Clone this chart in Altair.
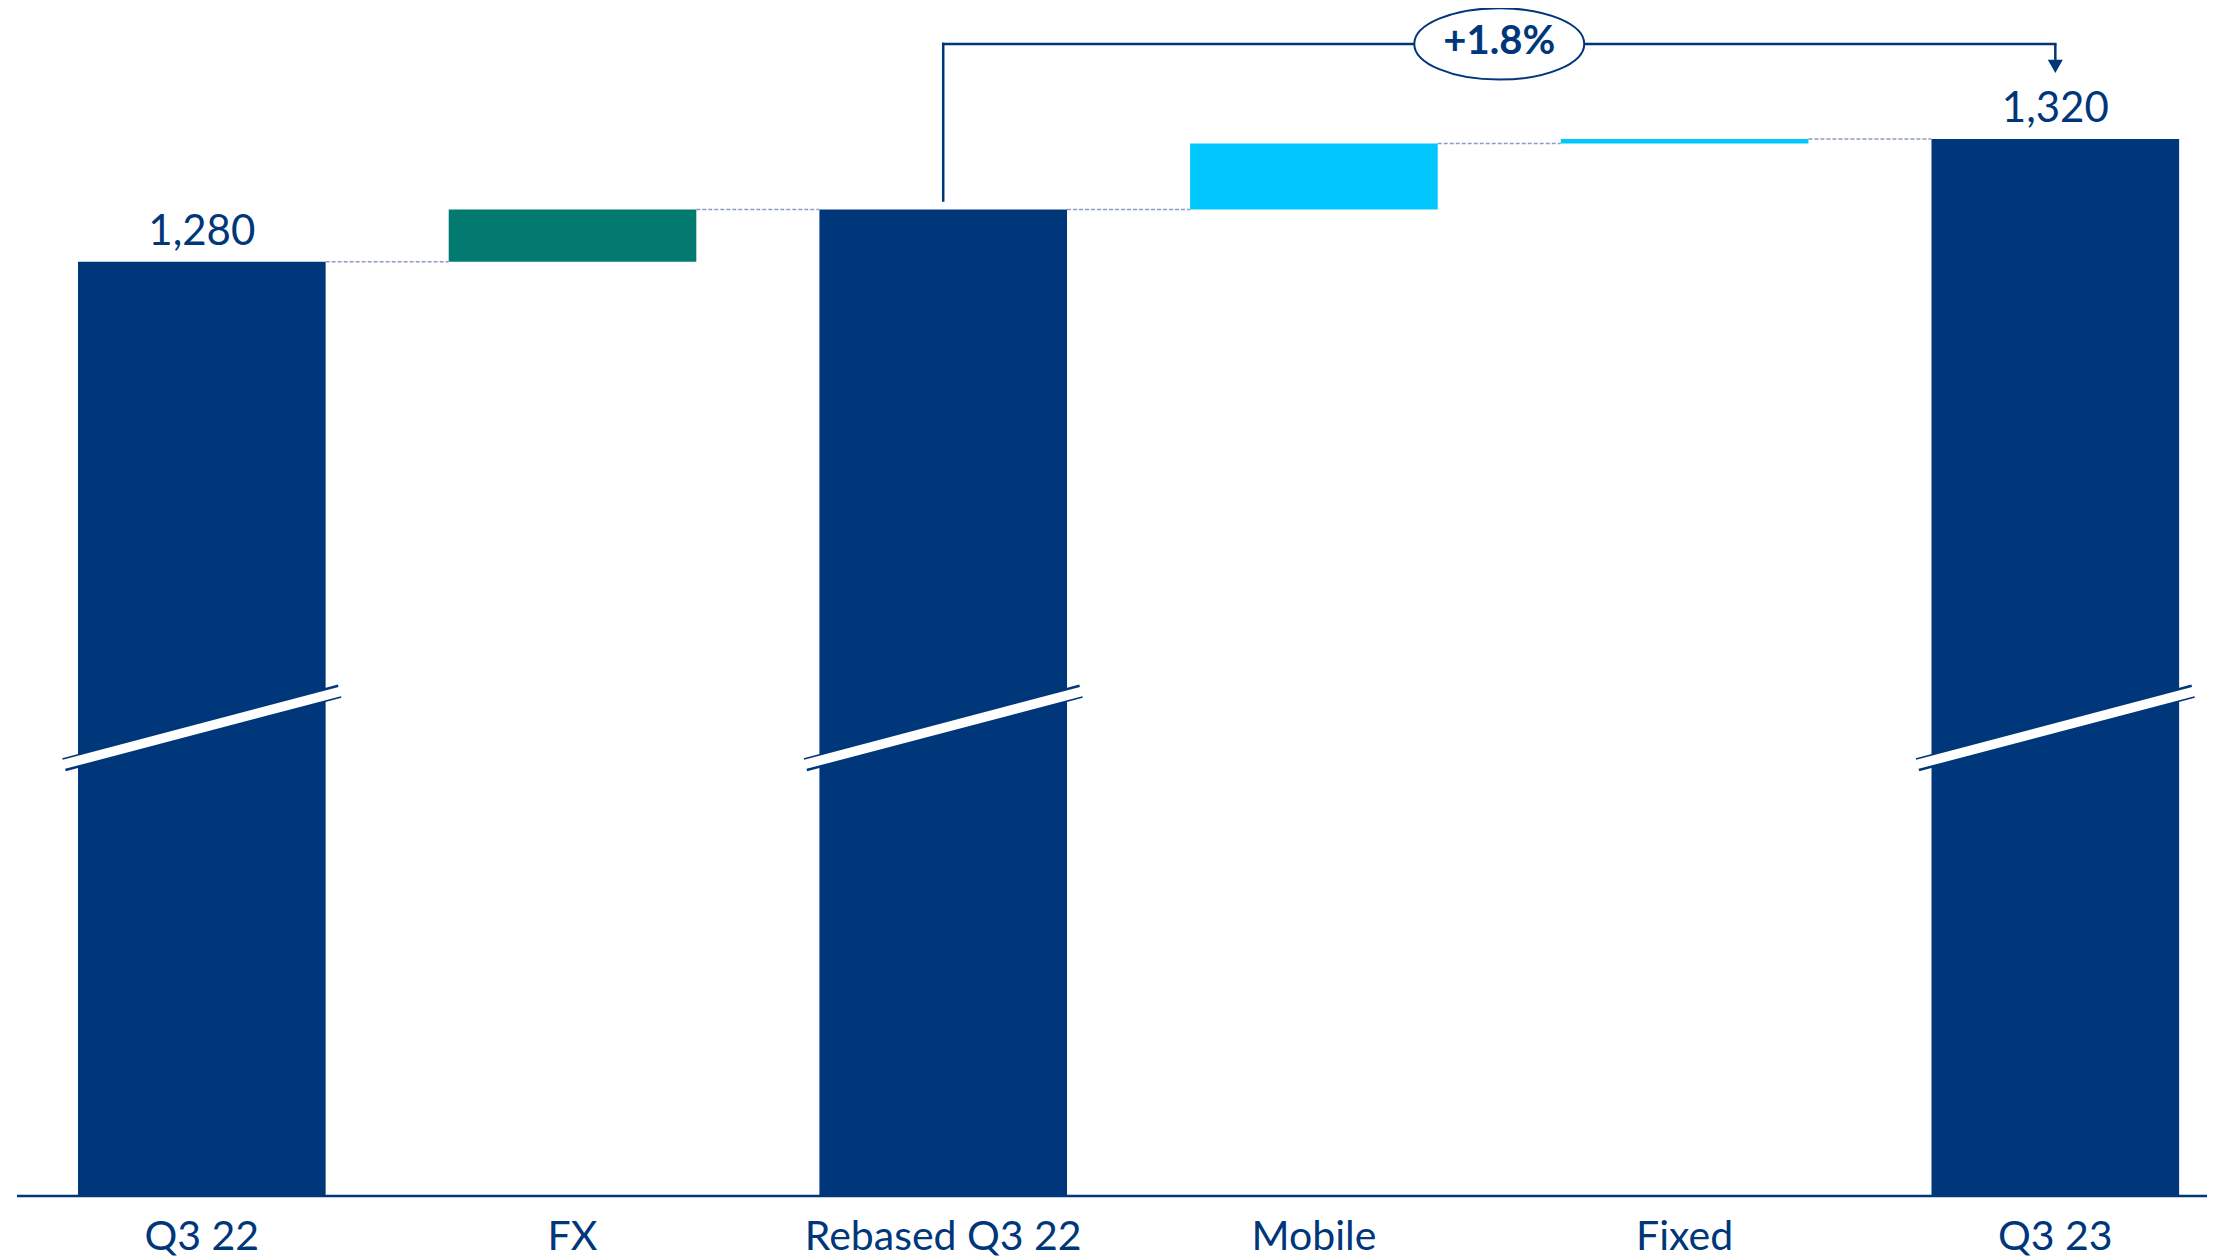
import altair as alt
import pandas as pd

# ---------------- data ----------------
categories = ["Q3 22", "FX", "Rebased Q3 22", "Mobile", "Fixed", "Q3 23"]
kinds = ["total", "delta", "total", "delta", "delta", "total"]
values = [1280, 17, 1297, 21.5, 1.5, 1320]
bar_colors = ["#00377A", "#037A70", "#00377A", "#00C8FF", "#00C8FF", "#00377A"]

label_cats = ["Q3 22", "Q3 23"]
label_texts = ["1,280", "1,320"]

growth_from = "Rebased Q3 22"
growth_to = "Q3 23"
growth_mid = "Mobile"
growth_text = "+1.8%"
growth_level = 1351      # height of the bracket, in value units

break_lo = 1116          # axis-break mark: value at left end
break_hi = 1140          # value at right end

# ---------------- style ----------------
NAVY = "#00377A"
DASH = "#8A9CC2"
FONT = "Lato"

W, H = 2190, 1188
PX_PER_UNIT = 3.0675
Y_MAX = 1362.7
Y_MIN = Y_MAX - H / PX_PER_UNIT
STEP = 370.7
PAD_IN = 0.332
X0 = 61
x_range = [X0, X0 + STEP * (len(categories) - PAD_IN)]

xscale = alt.Scale(domain=categories, range=x_range, paddingInner=PAD_IN, paddingOuter=0)
yscale = alt.Scale(domain=[Y_MIN, Y_MAX], zero=False, nice=False, clamp=True)
XAXIS = alt.Axis(domain=False, ticks=False, labelPadding=21, labelFontSize=41,
                 labelFont=FONT, labelColor=NAVY, labelAngle=0, labelLimit=1000,
                 grid=False, title=None)

# ---------------- derived tables ----------------
rows = []
run = 0
for c, k, v, col in zip(categories, kinds, values, bar_colors):
    if k == "total":
        start, end = 0, v
        run = v
    else:
        start, end = run, run + v
        run += v
    rows.append(dict(cat=c, start=start, end=end, color=col, kind=k))
bars_df = pd.DataFrame(rows)

conn_df = pd.DataFrame(
    [dict(frm=rows[i]["cat"], to=rows[i + 1]["cat"], level=rows[i]["end"]) for i in range(len(rows) - 1)]
)

labels_df = pd.DataFrame(
    [dict(cat=c, end=bars_df.loc[bars_df.cat == c, "end"].iloc[0], text=t) for c, t in zip(label_cats, label_texts)]
)

breaks_df = pd.DataFrame(
    [dict(cat=r["cat"], lo=break_lo, hi=break_hi) for r in rows if r["kind"] == "total"]
)

base_val = bars_df.loc[bars_df.cat == growth_from, "end"].iloc[0]
growth_df = pd.DataFrame([dict(frm=growth_from, to=growth_to, mid=growth_mid,
                               level=growth_level, base=base_val, text=growth_text)])

axis_df = pd.DataFrame({"a": [0]})

# ---------------- layers ----------------
def X(field, **kw):
    return alt.X(field, sort=categories, scale=xscale, axis=XAXIS, title=None, **kw)

def Y(field):
    return alt.Y(field, scale=yscale, axis=None, title=None)

bars = alt.Chart(bars_df).mark_bar().encode(
    x=X("cat:N"),
    y=Y("start:Q"),
    y2="end:Q",
    color=alt.Color("color:N", scale=None),
)

axis_line = alt.Chart(axis_df).mark_rule(color=NAVY, strokeWidth=2.5).encode(
    x=alt.value(0), x2=alt.value(W), y=alt.value(H)
)

break_dark = alt.Chart(breaks_df).mark_rule(color=NAVY, strokeWidth=13.5, xOffset=-14, x2Offset=14).encode(
    x=X("cat:N", bandPosition=0),
    x2=alt.X2("cat:N", bandPosition=1),
    y=Y("lo:Q"),
    y2="hi:Q",
)
break_white = alt.Chart(breaks_df).mark_rule(color="white", strokeWidth=9.5, xOffset=-16, x2Offset=16).encode(
    x=X("cat:N", bandPosition=0),
    x2=alt.X2("cat:N", bandPosition=1),
    y=Y("lo:Q"),
    y2="hi:Q",
)

connectors = alt.Chart(conn_df).mark_rule(color=DASH, strokeWidth=1.5, strokeDash=[4, 2]).encode(
    x=X("frm:N", bandPosition=1),
    x2=alt.X2("to:N", bandPosition=0),
    y=Y("level:Q"),
)

value_labels = alt.Chart(labels_df).mark_text(
    font=FONT, fontSize=42, color=NAVY, baseline="alphabetic", dy=-17
).encode(
    x=X("cat:N"),
    y=Y("end:Q"),
    text="text:N",
)

g = alt.Chart(growth_df)
br_vert = g.mark_rule(color=NAVY, strokeWidth=2.5, strokeCap="square", y2Offset=-9).encode(
    x=X("frm:N"), y=Y("level:Q"), y2="base:Q"
)
br_horiz = g.mark_rule(color=NAVY, strokeWidth=2.5, strokeCap="square").encode(
    x=X("frm:N", bandPosition=0.5), x2=alt.X2("to:N", bandPosition=0.5),
    y=Y("level:Q")
)
br_shaft = g.mark_rule(color=NAVY, strokeWidth=2.5, y2Offset=16).encode(
    x=X("to:N"), y=Y("level:Q"), y2="level:Q"
)
br_head = g.mark_point(
    shape="M-1,-0.87L1,-0.87L0,0.87Z", size=225, filled=True, fill=NAVY,
    opacity=1, yOffset=22.5
).encode(x=X("to:N"), y=Y("level:Q"))
ellipse = g.mark_point(
    shape="M-1,0A1,0.42,0,1,1,1,0A1,0.42,0,1,1,-1,0Z", size=28900, filled=True,
    fill="white", stroke=NAVY, strokeWidth=2, opacity=1, xOffset=STEP / 2
).encode(x=X("mid:N"), y=Y("level:Q"))
growth_lbl = g.mark_text(
    font=FONT, fontSize=40, fontWeight="bold", color=NAVY, baseline="middle",
    xOffset=STEP / 2, dy=-2
).encode(x=X("mid:N"), y=Y("level:Q"), text="text:N")

chart = alt.layer(
    bars, axis_line, break_dark, break_white, connectors, value_labels,
    br_vert, br_horiz, br_shaft, br_head, ellipse, growth_lbl
).properties(
    width=W, height=H,
    padding={"left": 9, "top": 0, "right": 0, "bottom": 62},
    autosize=alt.AutoSizeParams(type="none"),
).configure_view(stroke=None)

chart.save("out.html", embed_options={"renderer": "svg", "actions": False})
